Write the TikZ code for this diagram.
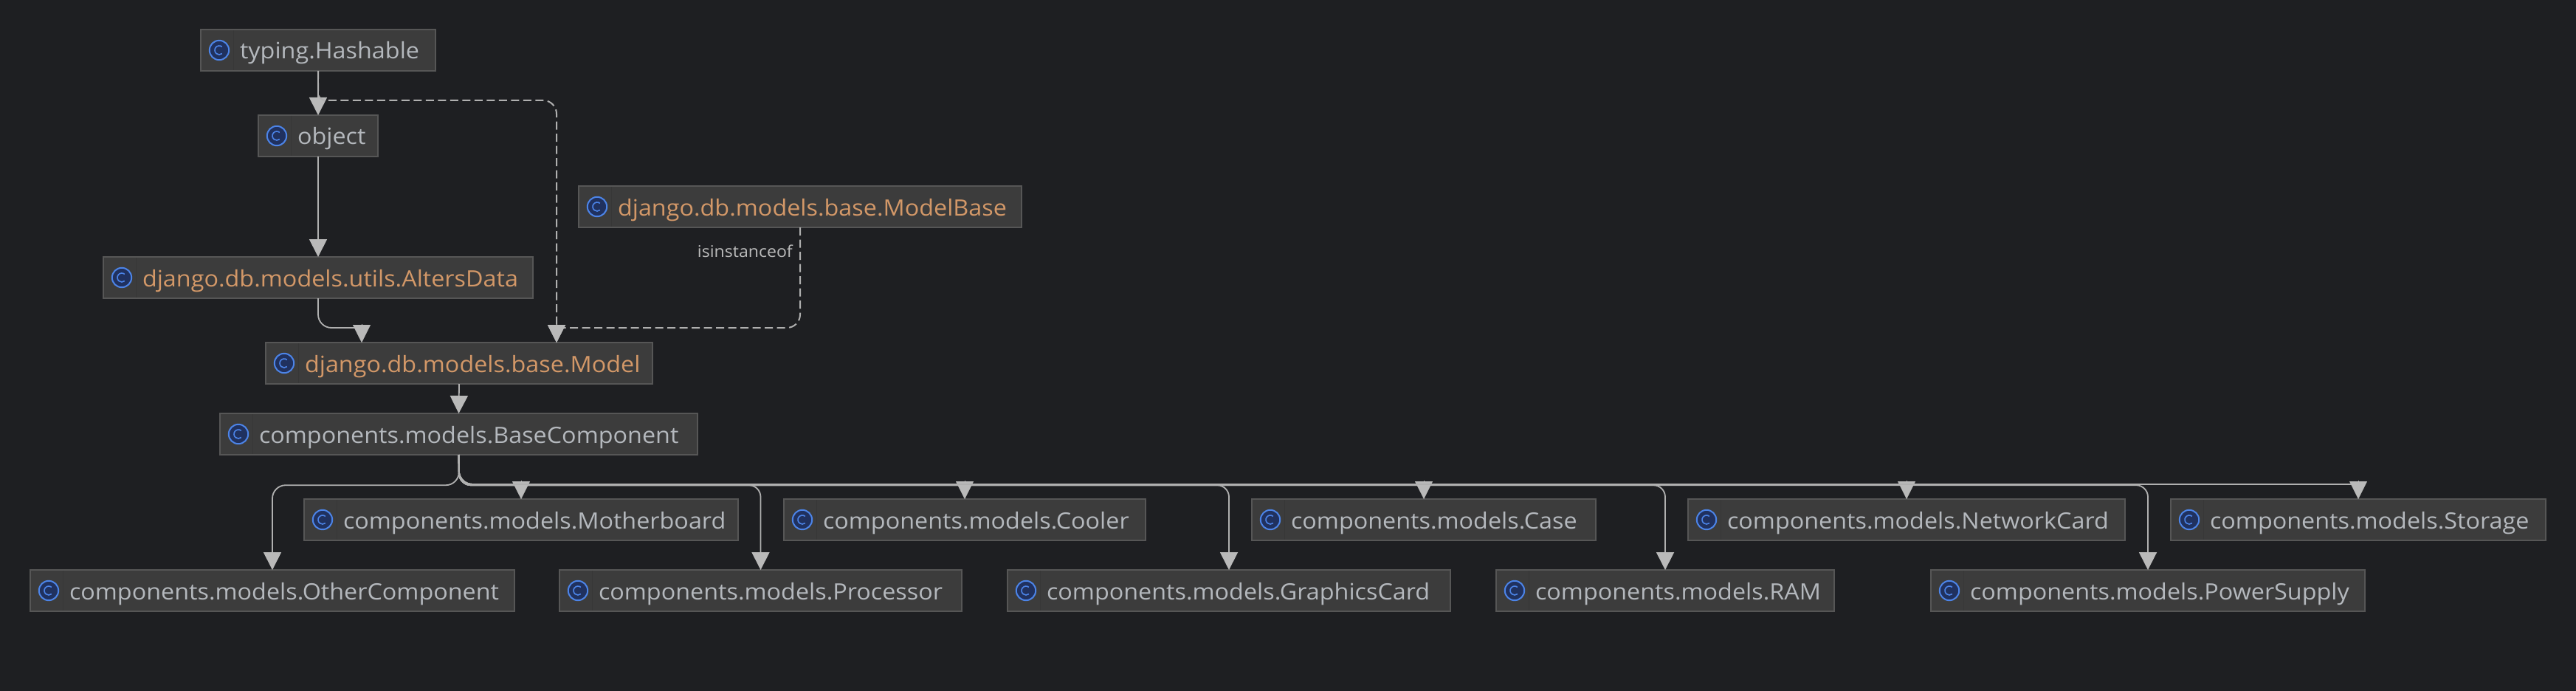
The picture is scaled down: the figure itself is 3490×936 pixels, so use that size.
\documentclass[tikz,border=0pt]{standalone}
\usepackage{fontspec}
\setmainfont[FakeStretch=1.06]{Open Sans}
\usetikzlibrary{arrows.meta,calc}
\definecolor{bgc}{HTML}{1E1F22}
\definecolor{boxc}{HTML}{3C3C3C}
\definecolor{bordc}{HTML}{565656}
\definecolor{sepc}{HTML}{373737}
\definecolor{txtg}{HTML}{B4B8BD}
\definecolor{txto}{HTML}{D39868}
\definecolor{linec}{HTML}{B0B0B0}
\definecolor{headc}{HTML}{B9B9B9}
\definecolor{iconl}{HTML}{4C84E8}
\definecolor{iconf}{HTML}{20315F}
\definecolor{lblc}{HTML}{BBBBBB}
\tikzset{
  classbox/.style={draw=bordc,fill=boxc,line width=1.5pt,rectangle,inner sep=0pt,outer sep=0pt,
    text height=40pt,text depth=16pt,font=\fontsize{30.5pt}{33pt}\selectfont},
  sepline/.style={draw=sepc,line width=1pt},
  conn/.style={draw=linec,line width=1.8pt,rounded corners=16pt},
  dashconn/.style={conn,line width=2pt,dash pattern=on 11pt off 5.5pt},
  tipped/.style={-{Triangle[length=24pt,width=24pt,fill=headc,color=headc]}},
  headonly/.style={draw=headc,line width=0.2pt,tipped},
  edgelabel/.style={font=\fontsize{21.8pt}{25pt}\selectfont,text=lblc,inner sep=0pt,anchor=base east}
}
\newcommand{\cls}[6]{%
  \pgfmathsetmacro\www{#3-#2}%
  \pgfmathsetmacro\cxx{(#2+#3)/2}%
  \node[classbox,minimum width=\www pt] (#1) at (\cxx,#4+28)
    {\makebox[\www pt][l]{\hspace{53pt}\textcolor{#5}{#6}}};
  \draw[sepline] (#2+44,#4+1) -- (#2+44,#4+55);
  \filldraw[draw=iconl,fill=iconf,line width=2pt] (#2+25,#4+28) circle[radius=13.2pt];
  \draw[iconl,line width=1.6pt] ($(#2+25,#4+28)+(50:6pt)$) arc[start angle=50,end angle=310,radius=6pt];
}
\begin{document}
\begin{tikzpicture}[x=1pt,y=-1pt]
\useasboundingbox (0,0) rectangle (3490,936);
\fill[bgc] (0,0) rectangle (3490,936);
% nodes
\cls{hash}{272}{590}{40}{txtg}{typing.Hashable}
\cls{obj}{350}{512}{156}{txtg}{object}
\cls{mb}{784}{1384}{252}{txto}{django.db.models.base.ModelBase}
\cls{alters}{140}{722}{348}{txto}{django.db.models.utils.AltersData}
\cls{model}{360}{884}{464}{txto}{django.db.models.base.Model}
\cls{base}{298}{945}{560}{txtg}{components.models.BaseComponent}
\cls{mother}{412}{1000}{676}{txtg}{components.models.Motherboard}
\cls{cooler}{1062}{1552}{676}{txtg}{components.models.Cooler}
\cls{case}{1696}{2162}{676}{txtg}{components.models.Case}
\cls{net}{2287}{2879}{676}{txtg}{components.models.NetworkCard}
\cls{stor}{2941}{3449}{676}{txtg}{components.models.Storage}
\cls{other}{41}{697}{772}{txtg}{components.models.OtherComponent}
\cls{proc}{758}{1303}{772}{txtg}{components.models.Processor}
\cls{gfx}{1365}{1965}{772}{txtg}{components.models.GraphicsCard}
\cls{ram}{2027}{2485}{772}{txtg}{components.models.RAM}
\cls{psu}{2616}{3204}{772}{txtg}{components.models.PowerSupply}
% helper coordinates
\coordinate (topbend) at (431,136);
\coordinate (altbend) at (431,444);
\coordinate (mbbend) at (1084,444);
\coordinate (bus) at (622,656);
\coordinate (busb) at (622,657.2);
% upper connectors
\draw[conn,tipped] (hash.south) -- (obj.north);
\draw[conn,tipped] (obj.south) -- (alters.north);
\draw[dashconn,tipped] (hash.south) [rounded corners=10pt] -- (topbend) [rounded corners=18pt] -| ($(model.north)+(132,0)$);
\draw[conn,rounded corners=18pt] (alters.south) -- (altbend) -- ($(model.north)+(-134,-20)$);
\draw[headonly] ($(model.north)+(-132,-25)$) -- ($(model.north)+(-132,0)$);
\draw[dashconn,rounded corners=18pt] (mb.south) -- (mbbend) -- ($(model.north)+(136,-20)$);
\draw[headonly] ($(model.north)+(132,-25)$) -- ($(model.north)+(132,0)$);
\draw[conn,tipped] (model.south) -- (base.north);
\node[edgelabel] (lbl) at (1074,348) {isinstanceof};
% lower row: through the bus to the long drop
\draw[conn,tipped,rounded corners=18pt] (base.south) -- (busb) -| (other.north);
\draw[conn,tipped] (base.south) -- (busb) -| (proc.north);
\draw[conn,tipped] (base.south) -- (busb) -| (gfx.north);
\draw[conn,tipped] (base.south) -- (busb) -| (ram.north);
\draw[conn,tipped] (base.south) -- (busb) -| (psu.north);
% upper row: along the bus, head under it
\foreach \t in {mother,cooler,case,net,stor}{
  \draw[conn,rounded corners=18pt] (base.south) -- (bus) -- ($(\t.north)+(-6,-20)$);
  \draw[headonly] ($(\t.north)+(0,-25)$) -- (\t.north);
}
\end{tikzpicture}
\end{document}
